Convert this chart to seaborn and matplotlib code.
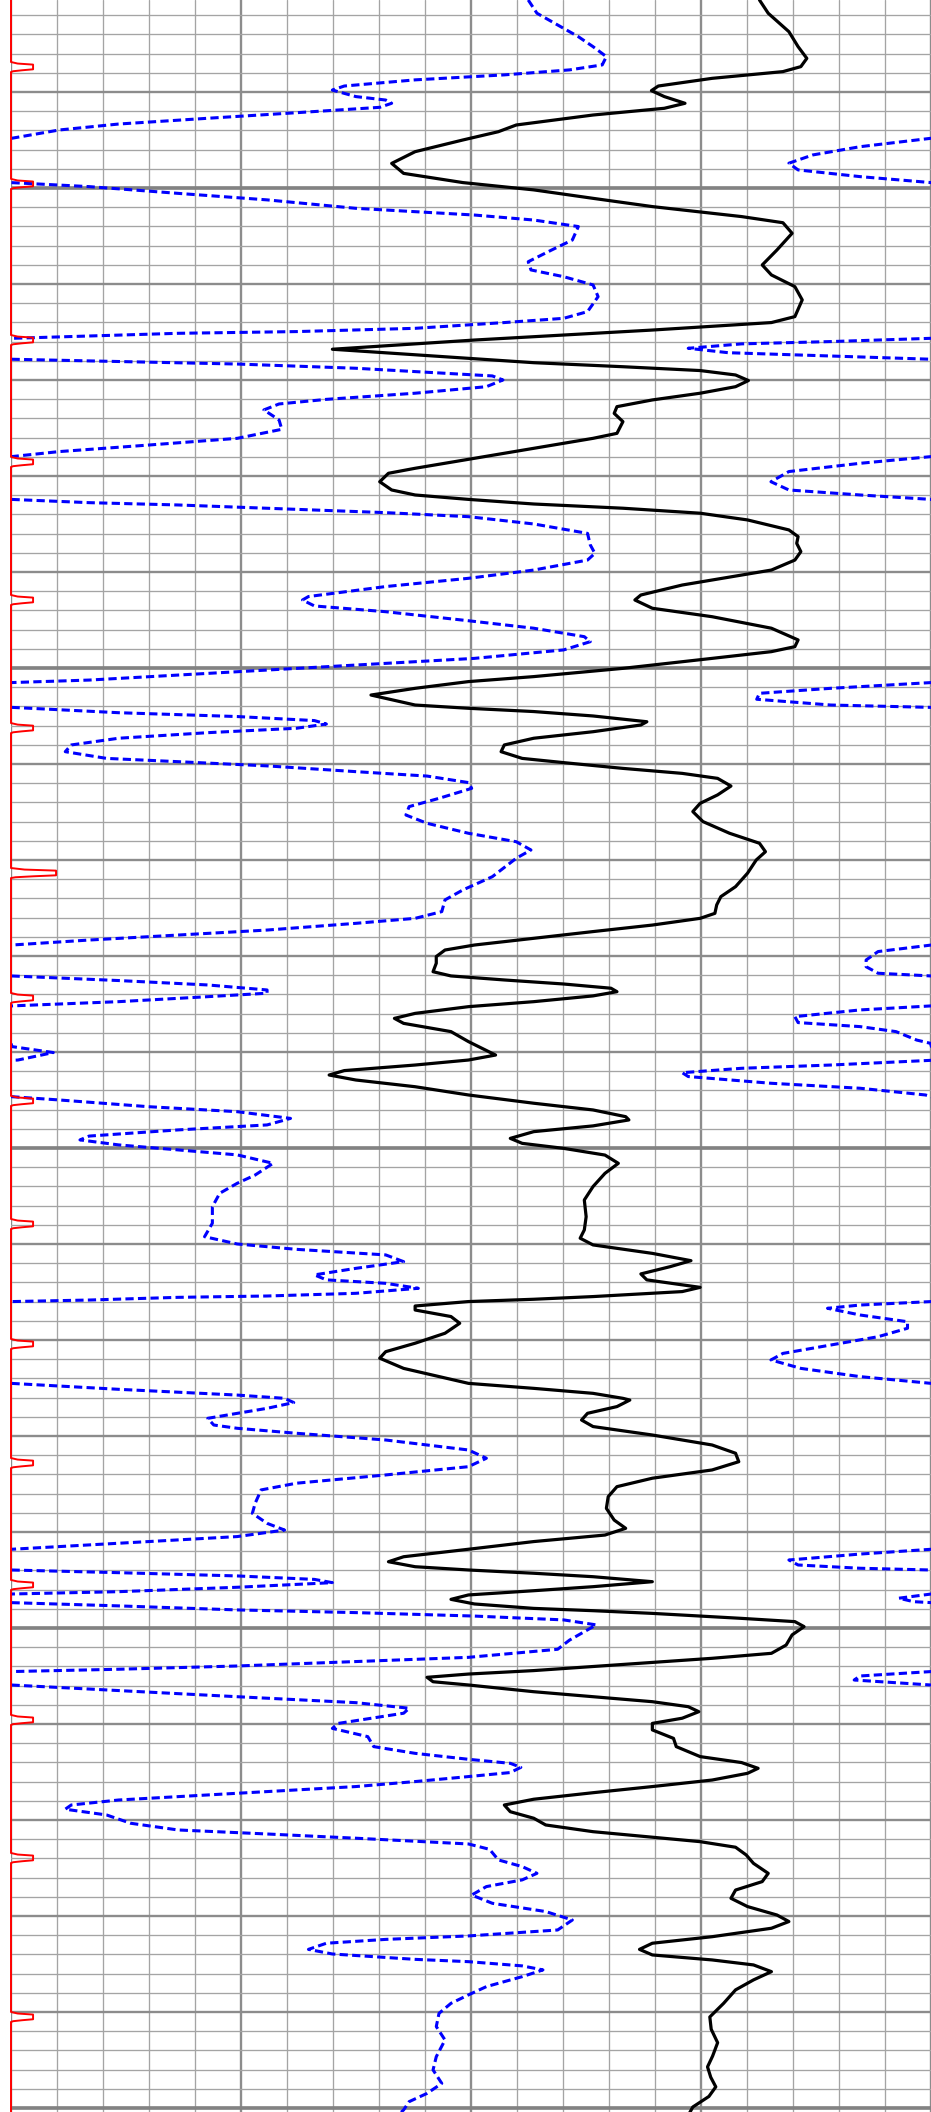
import numpy as np
import pandas as pd
import matplotlib
matplotlib.use("Agg")
import matplotlib.pyplot as plt
import seaborn as sns

# ---------------- data (track value 0..200, depth in grid rows) ----------------
black_depth = [
    0.21, 0.90, 1.86, 2.64, 3.25, 3.68, 3.94, 4.29, 4.69, 4.93, 5.24, 5.59, 5.85, 6.20, 6.72, 7.07, 7.50, 8.11,
    8.72, 9.24, 9.72, 10.10, 10.54, 10.97, 11.49, 11.81, 12.36, 13.23, 14.01, 14.53, 15.14, 15.83, 16.70, 17.01,
    17.40, 17.92, 18.40,
    18.87, 19.10, 19.31, 19.51, 19.74, 20.03, 20.35, 20.69, 21.04, 21.39, 21.74, 22.17, 22.78, 23.04, 23.56, 24.08,
    24.60, 24.86, 25.30, 25.73, 25.99, 26.22, 26.46, 26.68, 26.94, 27.29, 27.81, 28.16, 28.51, 28.94, 29.38, 29.90,
    30.16, 30.68, 31.20, 31.46, 31.89, 32.33, 32.93, 33.54, 33.89, 34.15, 34.50, 35.02, 35.45, 35.71, 36.06, 36.41,
    36.93, 37.10, 37.27, 37.50, 37.80, 37.97, 38.32, 38.66, 39.01, 39.36, 39.71, 39.93, 40.23, 40.49, 40.75, 41.15,
    41.61, 42.05, 42.48, 43.00, 43.61, 44.13, 44.57, 45.00, 45.69, 46.39, 46.91, 47.34, 47.78, 48.04, 48.39, 48.73,
    49.08, 49.43, 49.69, 50.03, 50.38, 50.82, 51.04, 51.25, 51.46, 51.68, 51.86, 52.08, 52.38, 52.64, 52.99, 53.25,
    53.51, 53.94, 54.46,
    55.16, 55.42, 55.68, 55.97, 56.20, 56.46, 56.81, 57.24, 57.67, 58.02, 58.37, 58.54, 58.85, 59.15, 59.50, 59.76,
    60.02, 60.37, 60.80, 61.32, 62.01, 62.71, 63.58, 64.27, 64.70, 65.05, 65.49, 65.87, 66.18, 66.56, 66.87, 67.26,
    67.48, 67.74, 67.88, 68.00, 68.23, 68.44, 68.78, 69.13, 69.65, 70.17, 70.61, 70.95, 71.48, 72.26, 72.52, 72.78,
    73.04,
    73.13, 73.47, 73.82, 74.17, 74.51, 74.95, 75.47, 75.90, 76.34, 76.77, 77.20, 77.64, 78.16, 78.77, 79.38, 79.81,
    80.16, 80.50, 80.90, 81.29, 81.55, 81.81, 81.98, 82.15, 82.33, 82.59, 82.85, 83.06, 83.28, 83.51, 83.75, 83.98,
    84.10, 84.24, 84.50, 84.67, 84.93, 85.36, 85.89, 86.32, 86.58, 87.01, 87.22, 87.40, 87.57, 87.80, 87.97, 88.32,
    88.58, 88.84, 89.10, 89.36, 89.70, 89.97, 90.31, 90.75, 91.18,
    91.70, 92.01, 92.31, 92.57, 92.92, 93.26, 93.58, 93.92, 94.22, 94.57, 94.91, 95.26, 95.61, 95.90, 96.13, 96.42,
    96.82, 97.26, 97.78, 98.21, 98.65, 99.08, 99.51, 99.95, 100.29, 100.64, 101.08, 101.42, 101.74, 102.03, 102.29,
    102.55, 102.90, 103.33, 103.85, 104.55,
    105.26, 105.90, 106.60, 107.30, 107.86, 108.40, 108.90, 109.40, 109.95, 110.30,
]
black_value = [
    162.8, 164.7, 169.2, 171.2, 173.1, 171.8, 167.9, 152.5, 140.8, 139.3, 142.1, 146.6, 142.1, 126.6, 109.9, 106.0,
    98.3, 87.9, 82.8, 85.4, 98.3, 113.7, 126.6, 139.5, 158.9, 167.9, 169.9, 166.6, 163.4, 165.4, 170.5, 172.1, 170.5,
    165.4, 139.5, 100.8, 69.9,
    99.5, 113.7, 133.1, 149.9, 157.6, 160.4, 157.6, 149.9, 139.5, 131.8, 131.2, 133.1, 131.8, 126.6, 113.7, 100.8,
    87.9, 82.1, 80.2, 82.8, 87.9, 99.5, 113.7, 133.1, 149.9, 160.2, 169.2, 171.2, 170.9, 171.8, 170.5, 165.4, 158.9,
    146.0, 137.0, 135.7, 139.5, 152.5, 165.4, 171.2, 170.5, 165.4, 152.5, 133.1, 113.7, 99.5, 87.9, 78.3,
    87.9, 99.5, 113.7, 126.6, 138.3, 137.0, 126.6, 113.7, 107.3, 106.6, 111.2, 120.2, 133.1, 146.0, 153.7, 156.6,
    153.7, 149.9, 148.3, 150.5, 156.3, 162.8, 164.1, 162.1, 160.2, 157.6, 154.4, 153.5, 153.1, 149.9, 139.5, 126.6,
    113.7, 100.8, 94.4, 92.5, 92.5, 91.8, 95.7, 107.3, 120.2, 130.5, 131.8, 126.6, 113.7, 99.5, 87.9, 83.4, 85.4,
    95.7, 99.5,
    105.4, 99.5, 87.9, 72.5, 69.2, 75.0, 87.9, 99.5, 113.7, 126.6, 133.7, 134.4, 126.6, 113.7, 108.6, 111.2, 120.2,
    129.2, 132.1, 129.2, 126.6, 124.7, 125.1, 124.7, 123.8, 126.6, 139.5, 147.9, 143.4, 137.0, 138.3, 149.9, 146.0,
    126.6, 113.7, 99.5, 87.9, 87.9, 95.7, 97.6, 94.4, 87.9, 81.5, 80.2, 85.4, 99.5, 113.7, 126.6, 133.1,
    134.6, 131.8, 125.4, 124.1, 126.6, 139.5, 152.5, 157.6, 158.3, 152.5, 139.5, 131.8, 129.9, 129.5, 131.2, 133.7,
    129.2, 113.7, 99.5, 85.4, 82.1, 87.9, 99.5, 113.7, 126.6, 139.5, 126.6, 113.7, 99.5, 95.7, 100.8, 113.7, 126.6,
    139.5, 158.9, 170.5, 172.5, 169.9, 168.6, 165.4, 152.5, 126.6, 113.7, 99.5, 90.5, 91.8, 99.5, 113.7, 126.6,
    139.5, 147.3, 149.6, 146.0, 139.5, 139.5, 144.1, 144.7,
    149.9, 158.9, 162.5, 160.2, 152.5, 139.5, 126.6, 113.7, 107.3, 108.6, 113.7, 116.3, 126.6, 139.5, 149.9, 157.6,
    159.9, 161.5, 164.7, 163.4, 157.6, 156.6, 160.2, 166.6, 169.2, 165.4, 152.5, 139.5, 136.7, 139.5, 152.5, 161.5,
    165.4, 161.5, 157.6, 155.0,
    152.0, 152.3, 153.7, 152.6, 151.5, 152.2, 153.3, 151.8, 148.3, 147.5,
]

# dashed curve: values below 0 wrap around onto the backup scale (value + 200)
blue_depth = [
    0.21, 0.90, 1.51, 2.12, 2.64, 3.16, 3.59, 3.85, 4.11, 4.37, 4.69, 4.90, 5.24, 5.42, 5.59, 5.80, 6.08, 6.37, 6.67,
    6.98, 7.41, 7.85, 8.28, 8.71, 9.06, 9.41, 9.72, 9.93, 10.28, 10.62, 11.06, 11.41, 11.67, 12.01, 12.71, 13.23,
    13.84, 14.27, 14.62, 15.05, 15.66, 16.44, 16.79, 17.01, 17.31, 17.48, 17.57, 17.71, 17.83, 18.00, 18.12, 18.35,
    18.58, 18.75, 18.92,
    19.04, 19.17, 19.39, 19.65, 19.79, 20.00, 20.35, 20.69, 21.01, 21.25, 21.56, 22.08, 22.57, 23.04, 23.39, 23.73,
    23.99, 24.34, 24.77, 25.30, 25.73, 25.99, 26.22, 26.39, 26.51, 26.68, 26.91, 27.12, 27.50, 27.99, 28.59, 29.03,
    29.38, 29.90, 30.33, 30.76, 31.28, 31.46, 31.77, 32.07, 32.54, 32.93, 33.37, 33.63, 34.06, 34.50, 34.76, 35.02,
    35.37, 35.63, 35.76, 36.06, 36.32, 36.63, 36.93, 37.05,
    37.33, 37.53, 37.74, 37.92, 38.14, 38.37, 38.66, 39.01, 39.36, 39.71, 39.88, 40.10, 40.40, 40.63, 40.97, 41.27,
    41.79, 42.22, 42.66, 43.09, 43.61, 44.05, 44.48, 44.91, 45.87, 46.56, 47.08, 47.69, 48.04, 48.30, 48.65, 48.91,
    49.17, 49.43, 49.77, 50.21, 50.56, 50.90, 51.04, 51.28, 51.51, 51.77, 51.94, 52.12, 52.38, 52.60, 52.81, 53.16,
    53.47, 53.68, 53.94, 54.38, 54.55, 54.72, 55.03, 55.42,
    55.68, 55.85, 56.08, 56.28, 56.63, 56.89, 57.24, 57.33, 57.50, 57.85, 58.11, 58.46, 58.80, 59.06, 59.38, 59.58,
    59.84, 60.10, 60.36, 60.80, 61.41, 61.84, 62.36, 63.06, 63.92, 64.62, 65.00, 65.28, 65.57, 65.92, 66.27, 66.61,
    66.87, 67.05, 67.31, 67.57, 67.71, 67.78, 67.92, 68.00, 68.18, 68.35, 68.70, 69.05, 69.39, 69.83, 70.26, 70.70,
    71.04, 71.48, 71.91, 72.26, 72.57, 72.87, 73.04, 73.26, 73.56,
    74.08, 74.43, 74.60, 74.86, 75.21, 75.73, 76.16, 76.60, 77.03, 77.46, 77.81, 78.51, 79.03, 79.55, 79.90, 80.24,
    80.50, 80.76, 80.90, 81.15, 81.46, 81.72, 81.89, 81.98, 82.12, 82.29, 82.47, 82.64, 82.88, 83.11, 83.23, 83.45,
    83.63, 83.68, 83.85, 84.06, 84.20, 84.38, 84.58, 84.84, 85.63, 86.11, 86.53, 86.75, 86.98, 87.15, 87.27, 87.50,
    87.71, 87.97, 88.26, 88.58, 88.89, 89.18, 89.44, 89.97, 90.23, 90.66, 91.18, 91.53,
    91.84, 92.05, 92.26, 92.53, 92.74, 93.00, 93.26, 93.52, 93.78, 93.96, 94.22, 94.44, 94.74, 95.17, 95.52, 95.73,
    95.95, 96.25, 96.53, 97.08, 97.43, 97.78, 98.12, 98.47, 98.91, 99.34, 99.77, 100.21, 100.73, 101.04, 101.22,
    101.42, 101.74, 101.98, 102.26, 102.38, 102.60, 102.81, 103.16, 103.68, 104.11, 104.55, 105.07, 105.76, 106.46,
    107.33, 108.02, 108.72, 109.24, 109.67, 110.10, 110.30,
]
blue_value = [
    112.5, 114.4, 118.9, 123.4, 126.6, 129.5, 128.6, 121.5, 107.3, 87.9, 72.5, 69.9, 75.0, 81.5, 82.8, 80.2, 62.1,
    42.8, 23.4, 10.5, 0.2, -15.3, -25.6, -30.8, -28.8, -15.3, 0.0, 17.0, 36.3, 55.7, 75.0, 100.8, 113.7, 123.4,
    122.1, 117.6, 112.5, 113.1, 120.2, 126.6, 127.7, 125.4, 120.2, 107.3, 87.9, 62.1, 36.3, 17.0, 0.2, -21.7, -41.1,
    -52.7, -44.0, -21.7, 0.0,
    23.4, 49.2, 75.0, 94.4, 104.7, 107.0, 103.4, 87.9, 68.6, 58.3, 55.0, 58.3, 58.9, 49.2, 29.9, 10.5, 0.2, -15.3,
    -30.8, -34.7, -30.8, -15.3, 0.0, 17.0, 36.3, 55.7, 81.5, 99.5, 113.7, 125.4, 126.0, 127.0, 125.4, 113.7, 99.5,
    81.5, 64.7, 63.4, 66.0, 81.5, 99.5, 113.7, 124.7, 126.0, 120.2, 100.8, 81.5, 62.1, 36.3, 17.0, 0.2, -21.7, -37.2,
    -37.8, -21.7, 0.0,
    23.4, 49.2, 66.0, 68.6, 62.1, 42.8, 23.4, 13.1, 11.8, 20.8, 36.3, 55.7, 75.0, 90.5, 99.5, 100.2, 93.1, 86.6, 85.9,
    90.5, 99.5, 109.9, 113.1, 109.9, 104.7, 98.3, 94.4, 93.7, 87.9, 75.0, 55.7, 36.3, 17.0, 0.2, -11.4, -14.0, -14.0,
    -11.4, 0.0, 23.4, 42.8, 55.7, 55.7, 42.8, 23.4, 0.2, -15.3, -29.5, -28.8, -15.3, -7.5, -3.0, 0.0, 0.2, 9.2, 1.5,
    -21.7, -41.1, -54.0, -52.7, -34.7, -15.3, -1.1, 0.2, 10.5, 29.9, 49.2, 60.8, 55.7, 36.3, 17.0, 15.0, 23.4, 36.3,
    49.2, 57.0, 53.1, 49.2, 45.4, 43.8, 43.8, 42.1, 49.2, 62.1, 81.5, 85.4, 75.0, 66.0, 68.6, 81.5, 88.6, 75.0, 55.7,
    36.3, 17.0, 0.2, -15.3, -22.4, -15.3, -5.0, -5.0, -11.4, -21.7, -32.1, -34.7, -28.2, -15.3, 0.0, 23.4, 49.2, 59.5,
    61.5, 55.7,
    42.8, 44.1, 49.2, 62.1, 81.5, 99.5, 103.4, 99.5, 81.5, 62.1, 54.4, 53.1, 52.5, 55.7, 59.5, 49.2, 29.9, 10.5, 0.2,
    -15.3, -30.8, -28.8, -15.3, 0.0, 23.4, 49.2, 66.0, 69.9, 49.2, 23.4, 0.2, -6.9, -3.7, 0.0, 23.4, 49.2, 75.0,
    100.8, 120.2, 127.3, 121.5, 118.9, 99.5, 75.0, 49.2, 23.4, 0.2, -15.3, -16.6, 0.0, 23.4, 49.2, 75.0, 86.6, 85.4,
    71.2, 69.9, 77.6, 78.9, 87.9,
    99.5, 108.6, 110.9, 108.6, 99.5, 87.9, 75.0, 55.7, 36.3, 23.4, 13.1, 11.8, 20.8, 26.0, 36.3, 55.7, 75.0, 99.5,
    104.1, 106.0, 111.2, 114.4, 111.2, 103.4, 100.2, 104.7, 116.3, 122.1, 118.9, 99.5, 81.5, 68.6, 64.7, 69.9, 87.9,
    99.5, 111.2, 115.7, 111.2, 103.4, 99.5, 95.7, 93.1, 92.5, 94.4, 92.5, 91.8, 93.7, 90.5, 86.6, 85.4, 84.5,
]

# red marker curve: depths and heights of its pulses
spike_depth = [3.70, 9.79, 17.92, 24.27, 31.46, 38.13, 45.68, 52.19, 57.55, 63.96, 70.21, 76.41, 82.76, 89.79,
               96.98, 105.26]
spike_height = [4.8, 4.8, 4.8, 4.8, 4.8, 4.8, 9.8, 4.8, 4.8, 4.8, 4.8, 4.8, 4.8, 4.8, 4.8, 4.8]

TRACK_MIN, TRACK_MAX = 0.0, 200.0
DEPTH_TOP, DEPTH_BOTTOM = 0.21, 110.21
HEAVY_ROWS = [10, 35, 60, 85, 110]

assert len(black_depth) == len(black_value), (len(black_depth), len(black_value))
assert len(blue_depth) == len(blue_value), (len(blue_depth), len(blue_value))

# pulse outline (style of the marker trace)
pulse_off = [-0.26, -0.18, -0.125, 0.12, 0.17, 0.22, 0.26]
pulse_frac = [0.0, 0.3, 1.0, 1.0, 0.5, 0.1, 0.0]
red_d, red_v = [DEPTH_TOP - 2], [0.0]
for d, h in zip(spike_depth, spike_height):
    for o, f in zip(pulse_off, pulse_frac):
        red_d.append(d + o)
        red_v.append(h * f)
red_d.append(DEPTH_BOTTOM + 2)
red_v.append(0.0)

black = pd.DataFrame({"depth": black_depth, "value": black_value})
blue = pd.DataFrame({"depth": blue_depth, "value": blue_value})
blue_wrap = blue.assign(value=blue["value"] + (TRACK_MAX - TRACK_MIN))
red = pd.DataFrame({"depth": red_d, "value": red_v})

# ---------------- figure ----------------
sns.set_theme(style="white")
fig = plt.figure(figsize=(9.31, 21.12), dpi=100)
ax = fig.add_axes([11 / 931, 0.0, 919.5 / 931, 1.0])

ax.set_xlim(TRACK_MIN, TRACK_MAX)
ax.set_ylim(DEPTH_BOTTOM, DEPTH_TOP)
ax.set_xticks(np.arange(0, 201, 50))
ax.set_xticks(np.arange(0, 201, 10), minor=True)
ax.set_yticks(np.arange(5, 111, 5))
ax.set_yticks(np.arange(1, 111, 1), minor=True)
ax.grid(which="major", color="#8c8c8c", linewidth=1.7)
ax.grid(which="minor", color="#a4a4a4", linewidth=0.95)
for r in HEAVY_ROWS:
    ax.axhline(r, color="#828282", linewidth=2.6, zorder=0.6)
ax.tick_params(which="both", length=0, labelbottom=False, labelleft=False)
ax.set_axisbelow(True)
for s in ax.spines.values():
    s.set_visible(False)

sns.lineplot(data=black, x="value", y="depth", sort=False, estimator=None, color="black",
             linewidth=2.3, solid_joinstyle="round", solid_capstyle="round", ax=ax)
for df in (blue, blue_wrap):
    sns.lineplot(data=df, x="value", y="depth", sort=False, estimator=None, color="#0000ff",
                 linewidth=2.2, linestyle=(0, (2.7, 1.4)), dash_joinstyle="round", ax=ax)
sns.lineplot(data=red, x="value", y="depth", sort=False, estimator=None, color="#ff0000",
             linewidth=1.4, ax=ax, clip_on=False)
ax.set_xlabel("")
ax.set_ylabel("")
if ax.get_legend() is not None:
    ax.get_legend().remove()

fig.savefig("out.png", dpi=100)
